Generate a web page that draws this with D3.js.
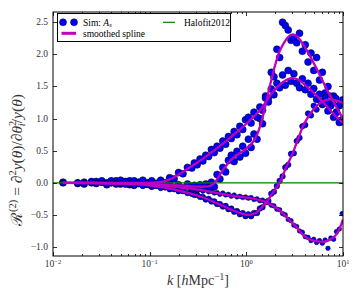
<!DOCTYPE html>
<html><head><meta charset="utf-8">
<script src="https://cdn.jsdelivr.net/npm/d3@7"></script>
<style>body{margin:0;background:#fff} svg{display:block}</style>
</head><body><svg id="c" width="354" height="295"></svg>
<script>
// ---- data ----
const kGrid = [0.0127,0.018,0.021,0.025,0.028,0.032,0.036,0.040,0.045,0.050,0.056,0.062,0.069,0.077,0.085,0.095,0.105,0.117,0.130,0.145,0.161,0.179,0.199,0.221,0.246,0.273,
0.29,0.31,0.332,0.355,0.38,0.407,0.435,0.466,0.498,0.533,0.571,0.611,0.653,0.699,0.748,0.8,0.857,0.917,0.981,1.05,1.12,1.2,1.29,1.38,1.47,1.58,1.69,1.81,1.93,2.07,2.21,2.37,2.53,2.71,2.9,3.1,3.32,3.55,3.8,4.07,4.35,4.66,4.98,5.33,5.71,6.11,6.53,6.99,7.48,8.0,8.56,9.16,9.8];

const simB = [0.00,-0.01,0.01,0.00,0.02,0.01,-0.03,0.02,0.03,-0.02,0.02,0.03,-0.04,0.01,-0.03,0.00,-0.05,-0.01,0.00,-0.06,-0.02,-0.07,-0.03,-0.08,-0.02,-0.09,
-0.04,-0.10,-0.03,-0.08,-0.02,-0.07,0.01,-0.06,0.13,0.06,0.24,0.17,0.35,0.43,0.33,0.49,0.40,0.57,0.46,0.68,0.55,0.76,0.68,1.00,0.92,1.35,1.32,1.72,1.65,2.08,1.95,2.50,2.45,2.38,2.22,2.26,2.18,2.33,2.05,2.15,1.88,2.02,1.75,1.95,1.60,1.72,1.40,1.50,1.25,1.35,1.10,1.20,0.95];

const simC = [0.01,0.00,-0.02,0.02,-0.01,0.03,0.00,0.03,-0.02,0.04,0.01,-0.03,0.03,0.00,0.04,-0.02,0.03,-0.01,0.04,0.00,0.08,0.06,0.16,0.14,0.24,0.23,
0.31,0.28,0.37,0.34,0.43,0.41,0.52,0.47,0.57,0.54,0.65,0.60,0.72,0.69,0.80,0.75,0.88,0.83,0.98,1.02,0.93,1.10,1.02,1.18,1.13,1.32,1.26,1.46,1.37,1.55,1.48,1.68,1.52,1.75,1.58,1.70,1.55,1.48,1.62,1.45,1.55,1.38,1.47,1.30,1.38,1.22,1.30,1.12,1.20,1.02,1.10,0.94,0.98];

const simD = [0.00,-0.01,0.00,-0.01,0.01,-0.01,0.00,-0.02,0.00,-0.02,-0.01,-0.03,-0.01,-0.03,-0.02,-0.04,-0.02,-0.05,-0.03,-0.06,-0.05,-0.07,-0.06,-0.09,-0.07,-0.10,
-0.09,-0.12,-0.10,-0.13,-0.11,-0.14,-0.13,-0.16,-0.15,-0.18,-0.16,-0.19,-0.18,-0.21,-0.19,-0.22,-0.21,-0.23,-0.22,-0.24,-0.23,-0.26,-0.25,-0.28,-0.27,-0.31,-0.31,-0.35,-0.36,-0.41,-0.42,-0.48,-0.50,-0.57,-0.59,-0.66,-0.68,-0.75,-0.77,-0.84,-0.85,-0.90,-0.88,-0.93,-0.90,-0.94,-0.89,-1.02,-0.86,-0.88,-0.76,-0.72,-0.48];

const simE = [0.00,0.00,-0.01,0.01,-0.01,0.00,-0.02,0.00,-0.02,-0.01,-0.03,-0.02,-0.04,-0.02,-0.05,-0.03,-0.06,-0.05,-0.08,-0.07,-0.10,-0.10,-0.13,-0.13,-0.16,-0.17,
-0.19,-0.19,-0.22,-0.22,-0.26,-0.25,-0.29,-0.29,-0.33,-0.33,-0.37,-0.36,-0.41,-0.40,-0.45,-0.44,-0.49,-0.47,-0.52,-0.49,-0.52,-0.47,-0.47,-0.40,-0.38,-0.30,-0.28,-0.17,-0.14,-0.05,0.03,0.10,0.24,0.28,0.45,0.46,0.65,0.70,0.88,0.90,1.08,1.05,1.20,1.14,1.28,1.22,1.34,1.25,1.36,1.24,1.32,1.22,1.30];

const splB_k = [0.0127,0.03,0.05,0.1,0.2,0.3,0.42,0.47,0.53,0.6,0.7,0.85,1.0,1.15,1.3,1.45,1.6,1.8,2.0,2.2,2.45,2.7,3.0,3.4,4,5,6,7,8,9,10];
const splB_v = [0,0,-0.01,-0.02,-0.04,-0.06,-0.05,0.0,0.12,0.24,0.36,0.46,0.53,0.62,0.76,0.98,1.25,1.58,1.85,2.04,2.18,2.27,2.31,2.27,2.12,1.86,1.62,1.42,1.26,1.12,1.0];
const splC_k = [0.0127,0.05,0.1,0.13,0.16,0.2,0.3,0.4,0.53,0.7,1.0,1.38,1.9,2.4,3.0,3.5,4.2,5,6,7,8,9,10];
const splC_v = [0,0,0,0.01,0.05,0.13,0.3,0.43,0.57,0.72,0.92,1.13,1.42,1.57,1.63,1.6,1.5,1.4,1.28,1.17,1.07,1.0,0.93];
const splD_k = [0.0127,0.05,0.1,0.2,0.33,0.5,0.7,1.0,1.3,1.6,1.9,2.22,2.7,3.3,3.9,4.5,5.3,6.2,7.0,7.8,8.6,9.3,10];
const splD_v = [0,-0.01,-0.03,-0.07,-0.11,-0.16,-0.2,-0.23,-0.26,-0.3,-0.36,-0.43,-0.56,-0.69,-0.82,-0.88,-0.91,-0.92,-0.9,-0.86,-0.8,-0.7,-0.57];
const splE_k = [0.0127,0.05,0.1,0.2,0.33,0.5,0.7,0.9,1.05,1.25,1.45,1.65,1.9,2.2,2.6,3.0,3.5,4.0,5.0,6.0,7.3,8.5,10];
const splE_v = [0,-0.01,-0.04,-0.12,-0.21,-0.32,-0.42,-0.48,-0.5,-0.47,-0.38,-0.28,-0.14,0.0,0.25,0.45,0.72,0.93,1.15,1.26,1.3,1.28,1.25];

const halofitK = [0.01,10];
const halofitV = [0,0];

const yTicks = [-1.0,-0.5,0.0,0.5,1.0,1.5,2.0,2.5];
const yTickLabels = ["\u22121.0","\u22120.5","0.0","0.5","1.0","1.5","2.0","2.5"];
const xTicks = [0.01,0.1,1,10];
const xTickExp = ["\u22122","\u22121","0","1"];

// ---- chart ----
const svg = d3.select("#c");
const L=53,R=343,T=12,B=256;
const x = d3.scaleLog().domain([0.01,10]).range([L,R]);
const y = d3.scaleLinear().domain([-1.14,2.66]).range([B,T]);
const serif = "'DejaVu Serif','Liberation Serif',serif";
const serif2 = "'Liberation Serif','DejaVu Serif',serif";

svg.append("defs").append("clipPath").attr("id","clip")
  .append("rect").attr("x",L).attr("y",T).attr("width",R-L).attr("height",B-T);
const plot = svg.append("g").attr("clip-path","url(#clip)");

const series = [
  {vals: simB, r: 3.5},
  {vals: simC, r: 3.5},
  {vals: simD, r: 2.3},
  {vals: simE, r: 2.8}
];
series.forEach(s=>{
  plot.append("g").selectAll("circle").data(kGrid.map((k,i)=>[k,s.vals[i]])).join("circle")
    .attr("cx",d=>x(d[0])).attr("cy",d=>y(d[1])).attr("r",s.r)
    .attr("fill","#0000ff").attr("stroke","#000").attr("stroke-width",0.5);
});

const line = d3.line().x(d=>x(d[0])).y(d=>y(d[1]));
plot.append("path").datum(halofitK.map((k,i)=>[k,halofitV[i]]))
  .attr("d",line).attr("fill","none").attr("stroke","#008000").attr("stroke-width",1.2);

const sline = d3.line().x(d=>x(d[0])).y(d=>y(d[1])).curve(d3.curveCatmullRom.alpha(0.5));
[[splB_k,splB_v],[splC_k,splC_v],[splD_k,splD_v],[splE_k,splE_v]].forEach(([ks,vs])=>{
  plot.append("path").datum(ks.map((k,i)=>[k,vs[i]]))
    .attr("d",sline).attr("fill","none").attr("stroke","#bf00bf").attr("stroke-width",2.3)
    .attr("stroke-linejoin","round");
});

// frame
svg.append("rect").attr("x",L).attr("y",T).attr("width",R-L).attr("height",B-T)
  .attr("fill","none").attr("stroke","#000").attr("stroke-width",1);

// ticks
const tk = svg.append("g").attr("stroke","#000").attr("stroke-width",0.8);
yTicks.forEach(v=>{
  const yy = Math.round(y(v))+0.5;
  tk.append("line").attr("x1",L).attr("x2",L+4).attr("y1",yy).attr("y2",yy);
  tk.append("line").attr("x1",R).attr("x2",R-4).attr("y1",yy).attr("y2",yy);
});
xTicks.forEach(v=>{
  const xx = Math.round(x(v))+0.5;
  tk.append("line").attr("x1",xx).attr("x2",xx).attr("y1",B).attr("y2",B-4);
  tk.append("line").attr("x1",xx).attr("x2",xx).attr("y1",T).attr("y2",T+4);
});
const minor = [];
[0.01,0.1,1].forEach(d=>{for(let m=2;m<=9;m++) minor.push(d*m);});
minor.forEach(v=>{
  const xx = Math.round(x(v))+0.5;
  tk.append("line").attr("x1",xx).attr("x2",xx).attr("y1",B).attr("y2",B-2);
  tk.append("line").attr("x1",xx).attr("x2",xx).attr("y1",T).attr("y2",T+2);
});

// tick labels
const lab = svg.append("g").attr("font-family",serif2).attr("fill","#000");
yTicks.forEach((v,i)=>{
  lab.append("text").attr("x",L-5).attr("y",y(v)+3).attr("text-anchor","end")
    .attr("font-size",9.5).attr("fill","#333").text(yTickLabels[i]);
});
xTicks.forEach((v,i)=>{
  const t = lab.append("text").attr("x",x(v)).attr("y",267).attr("text-anchor","middle").attr("font-size",9.5).attr("fill","#333");
  t.append("tspan").text("10");
  t.append("tspan").attr("dy",-3.5).attr("font-size",6.5).text(xTickExp[i]);
});

// x label
const xl = lab.append("text").attr("x",198).attr("y",285).attr("text-anchor","middle").attr("font-size",14).attr("fill","#333");
xl.append("tspan").attr("font-style","italic").text("k");
xl.append("tspan").text(" [");
xl.append("tspan").attr("font-style","italic").text("h");
xl.append("tspan").text("Mpc");
xl.append("tspan").attr("dy",-5).attr("font-size",9.5).text("\u22121");
xl.append("tspan").attr("dy",5).text("]");

// y label
const yl = lab.append("text").attr("transform","translate(22,160) rotate(-90)")
  .attr("text-anchor","middle").attr("font-size",15.5).attr("fill","#333");
const parts = [
  ["\u211B",0,null,null],["(2)",-6,10.5,null],[" = \u2202",6,null,null],["2",-6,10.5,null],
  ["y",6,null,"italic"],["(",0,null,null],["\u03B8",0,null,"italic"],[")/\u2202",0,null,null],
  ["\u03B8",0,null,"italic"],["2",-6,10.5,null],["i",9,10.5,"italic"],["/",-3,null,null],
  ["y",0,null,"italic"],["(",0,null,null],["\u03B8",0,null,"italic"],[")",0,null,null]
];
parts.forEach(([s,dy,fs,st],i)=>{
  const ts = yl.append("tspan").text(s);
  if(dy) ts.attr("dy",dy);
  if(fs) ts.attr("font-size",fs);
  if(st) ts.attr("font-style",st);
  if(s==="i") ts.attr("dx",-5.5);
});

// legend
const lg = svg.append("g");
lg.append("rect").attr("x",57.5).attr("y",13.5).attr("width",173).attr("height",28)
  .attr("fill","#fff").attr("stroke","#000").attr("stroke-width",1);
[63,74].forEach(cx=>lg.append("circle").attr("cx",cx).attr("cy",22.3).attr("r",3.5)
  .attr("fill","#0000ff").attr("stroke","#000").attr("stroke-width",0.5));
lg.append("line").attr("x1",61.5).attr("x2",76).attr("y1",33.3).attr("y2",33.3)
  .attr("stroke","#bf00bf").attr("stroke-width",3);
lg.append("line").attr("x1",163).attr("x2",175).attr("y1",22.3).attr("y2",22.3)
  .attr("stroke","#008000").attr("stroke-width",1.2);
const lt = lg.append("g").attr("font-family",serif2).attr("font-size",9.5).attr("fill","#000");
const t1 = lt.append("text").attr("x",83).attr("y",25.5);
t1.append("tspan").text("Sim: ");
t1.append("tspan").attr("font-style","italic").text("A");
t1.append("tspan").attr("dy",1.5).attr("font-size",6.5).attr("font-style","italic").text("s");
lt.append("text").attr("x",83).attr("y",36.5).text("smoothed spline");
lt.append("text").attr("x",184).attr("y",25.5).text("Halofit2012");
</script></body></html>
